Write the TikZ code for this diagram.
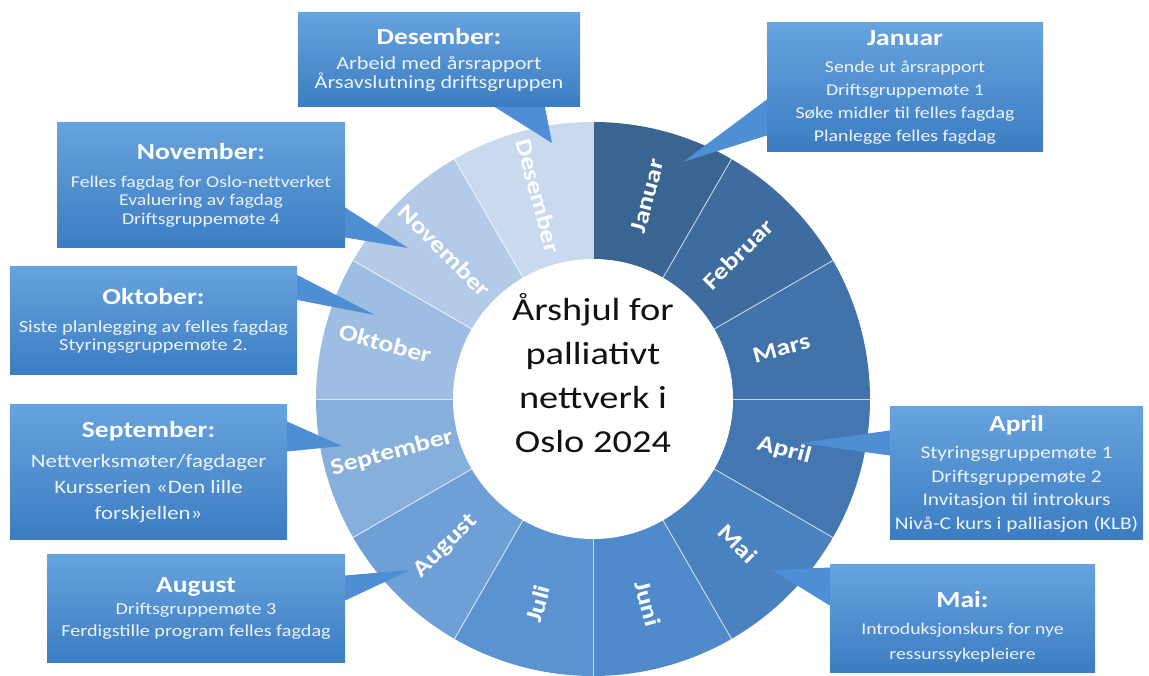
\documentclass[tikz,border=0pt]{standalone}
\usepackage{fontspec}
\setmainfont{Carlito}[FakeStretch=1.2]
\usepackage{tikz}
\usepackage{xcolor}

\definecolor{janblue}{HTML}{3A6491}
\definecolor{febblue}{HTML}{3E6C9E}
\definecolor{marblue}{HTML}{4172A9}
\definecolor{aprblue}{HTML}{4477B1}
\definecolor{maiblue}{HTML}{4A81BF}
\definecolor{junblue}{HTML}{508ACA}
\definecolor{julblue}{HTML}{5B93D0}
\definecolor{augblue}{HTML}{6E9FD5}
\definecolor{sepblue}{HTML}{87AFDB}
\definecolor{octblue}{HTML}{9DBDE2}
\definecolor{novblue}{HTML}{B3CBE8}
\definecolor{decblue}{HTML}{C9D9EE}
\definecolor{calltop}{HTML}{67A3DD}
\definecolor{callbot}{HTML}{3B7CC2}
\definecolor{callpoint}{HTML}{4E8ED4}
\definecolor{callink}{HTML}{EDF3FB}
\definecolor{hubtext}{HTML}{111111}

\newcommand{\calltitle}[1]{{\color{white}\bfseries\fontsize{23}{23}\selectfont #1}}

\begin{document}
\begin{tikzpicture}[x=1pt,y=1pt,
  monthlabel/.style={text=white,font=\bfseries\fontsize{23}{24}\selectfont,inner sep=0pt},
  hub/.style={circle,fill=white,minimum size=280,inner sep=0pt},
  hubtitle/.style={align=center,inner sep=0pt,font=\fontsize{32}{44}\selectfont,text=hubtext},
  callout/.style={rectangle,top color=calltop,bottom color=callbot,text=callink,
                  align=center,inner sep=0pt},
  pointer/.style={fill=callpoint},
  divider/.style={draw=white,line width=0.9pt,opacity=0.7}]

  \useasboundingbox (0,0) rectangle (1149,675);
  \coordinate (C) at (593,276);

  % wheel segments
  \fill[janblue] (C) -- ++(90:277)  arc[start angle=90,end angle=60,radius=277] -- cycle;
  \fill[febblue] (C) -- ++(60:277)  arc[start angle=60,end angle=30,radius=277] -- cycle;
  \fill[marblue] (C) -- ++(30:277)  arc[start angle=30,end angle=0,radius=277] -- cycle;
  \fill[aprblue] (C) -- ++(0:277)   arc[start angle=0,end angle=-30,radius=277] -- cycle;
  \fill[maiblue] (C) -- ++(-30:277) arc[start angle=-30,end angle=-60,radius=277] -- cycle;
  \fill[junblue] (C) -- ++(-60:277) arc[start angle=-60,end angle=-90,radius=277] -- cycle;
  \fill[julblue] (C) -- ++(-90:277) arc[start angle=-90,end angle=-120,radius=277] -- cycle;
  \fill[augblue] (C) -- ++(240:277) arc[start angle=240,end angle=210,radius=277] -- cycle;
  \fill[sepblue] (C) -- ++(210:277) arc[start angle=210,end angle=180,radius=277] -- cycle;
  \fill[octblue] (C) -- ++(180:277) arc[start angle=180,end angle=150,radius=277] -- cycle;
  \fill[novblue] (C) -- ++(150:277) arc[start angle=150,end angle=120,radius=277] -- cycle;
  \fill[decblue] (C) -- ++(120:277) arc[start angle=120,end angle=90,radius=277] -- cycle;

  % dividers
  \draw[divider] ([shift={(90:277)}]C)  -- ([shift={(270:277)}]C);
  \draw[divider] ([shift={(60:277)}]C)  -- ([shift={(240:277)}]C);
  \draw[divider] ([shift={(30:277)}]C)  -- ([shift={(210:277)}]C);
  \draw[divider] ([shift={(0:277)}]C)   -- ([shift={(180:277)}]C);
  \draw[divider] ([shift={(-30:277)}]C) -- ([shift={(150:277)}]C);
  \draw[divider] ([shift={(-60:277)}]C) -- ([shift={(120:277)}]C);

  \node[hub] (hub) at (C) {};
  \node[hubtitle] (title) at ([yshift=26]hub.center) {Årshjul for\\palliativt\\nettverk i\\Oslo 2024};

  % month labels
  \node[monthlabel,rotate=75]  (janlab) at ([shift={(75:210)}]C)  {Januar};
  \node[monthlabel,rotate=45]  (feblab) at ([shift={(45:205)}]C)  {Februar};
  \node[monthlabel,rotate=15]  (marlab) at ([shift={(15:195)}]C)  {Mars};
  \node[monthlabel,rotate=-15] (aprlab) at ([shift={(-15:198)}]C) {April};
  \node[monthlabel,rotate=-45] (mailab) at ([shift={(-45:205)}]C) {Mai};
  \node[monthlabel,rotate=-75] (junlab) at ([shift={(-75:212)}]C) {Juni};
  \node[monthlabel,rotate=75]  (jullab) at ([shift={(255:212)}]C) {Juli};
  \node[monthlabel,rotate=45]  (auglab) at ([shift={(225:208)}]C) {August};
  \node[monthlabel,rotate=15]  (seplab) at ([shift={(195:208)}]C) {September};
  \node[monthlabel,rotate=-15] (octlab) at ([shift={(165:215)}]C) {Oktober};
  \node[monthlabel,rotate=-45] (novlab) at ([shift={(135:210)}]C) {November};
  \node[monthlabel,rotate=-75] (declab) at ([shift={(105:210)}]C) {Desember};

  % callout boxes
  \node[callout,minimum width=282,minimum height=94,font=\fontsize{18.5}{19}\selectfont]
    (deccall) at (439,615)
    {\calltitle{Desember:}\\[6pt]Arbeid med årsrapport\\Årsavslutning driftsgruppen};
  \node[callout,minimum width=276,minimum height=129,font=\fontsize{16.5}{23}\selectfont]
    (jancall) at (905,587.5)
    {\calltitle{Januar}\\[4pt]Sende ut årsrapport\\Driftsgruppemøte 1\\Søke midler til felles fagdag\\Planlegge felles fagdag};
  \node[callout,minimum width=288,minimum height=125,font=\fontsize{16.5}{18.5}\selectfont]
    (novcall) at (201,489.5)
    {\calltitle{November:}\\[9pt]Felles fagdag for Oslo-nettverket\\Evaluering av fagdag\\Driftsgruppemøte 4};
  \node[callout,minimum width=287,minimum height=108,font=\fontsize{17}{18.5}\selectfont]
    (octcall) at (153.5,354)
    {\calltitle{Oktober:}\\[9pt]Siste planlegging av felles fagdag\\Styringsgruppemøte 2.};
  \node[callout,minimum width=277,minimum height=135,font=\fontsize{19}{26}\selectfont]
    (sepcall) at (148.5,202.5)
    {\calltitle{September:}\\[4pt]Nettverksmøter/fagdager\\Kursserien «Den lille\\forskjellen»};
  \node[callout,minimum width=298,minimum height=107,font=\fontsize{16.8}{22}\selectfont]
    (augcall) at (196,66.5)
    {\calltitle{August}\\Driftsgruppemøte 3\\Ferdigstille program felles fagdag};
  \node[callout,minimum width=253,minimum height=133,font=\fontsize{17.8}{23.5}\selectfont]
    (aprcall) at (1016.5,201.5)
    {\calltitle{April}\\[4pt]Styringsgruppemøte 1\\Driftsgruppemøte 2\\Invitasjon til introkurs\\Nivå-C kurs i palliasjon (KLB)};
  \node[callout,minimum width=265,minimum height=107,font=\fontsize{16.4}{25}\selectfont]
    (maicall) at (962.5,56.5)
    {\rule{0pt}{32pt}\calltitle{Mai:}\\[2pt]Introduksjonskurs for nye\\ressurssykepleiere};

  % pointer tips
  \coordinate (dectip) at (552,532);
  \coordinate (jantip) at (683,513);
  \coordinate (novtip) at (408,427);
  \coordinate (octtip) at (375,360);
  \coordinate (septip) at (342,229);
  \coordinate (augtip) at (410,105);
  \coordinate (aprtip) at (800,232);
  \coordinate (maitip) at (772,105);

  % callouts to months
  \fill[pointer] ([xshift=56]deccall.south) -- (dectip) -- ([xshift=106]deccall.south) -- cycle;
  \fill[pointer] ([yshift=-12]jancall.west) -- (jantip) -- ([yshift=-48]jancall.west) -- cycle;
  \fill[pointer] ([yshift=-22]novcall.east) -- (novtip) -- ([yshift=-52]novcall.east) -- cycle;
  \fill[pointer] ([yshift=46]octcall.east) -- (octtip) -- ([yshift=21]octcall.east) -- cycle;
  \fill[pointer] ([yshift=51]sepcall.east) -- (septip) -- ([yshift=21]sepcall.east) -- cycle;
  \fill[pointer] ([yshift=33]augcall.east) -- (augtip) -- ([yshift=8]augcall.east) -- cycle;
  \fill[pointer] ([yshift=43]aprcall.west) -- (aprtip) -- ([yshift=18]aprcall.west) -- cycle;
  \fill[pointer] ([yshift=51]maicall.west) -- (maitip) -- ([yshift=13]maicall.west) -- cycle;

\end{tikzpicture}
\end{document}
